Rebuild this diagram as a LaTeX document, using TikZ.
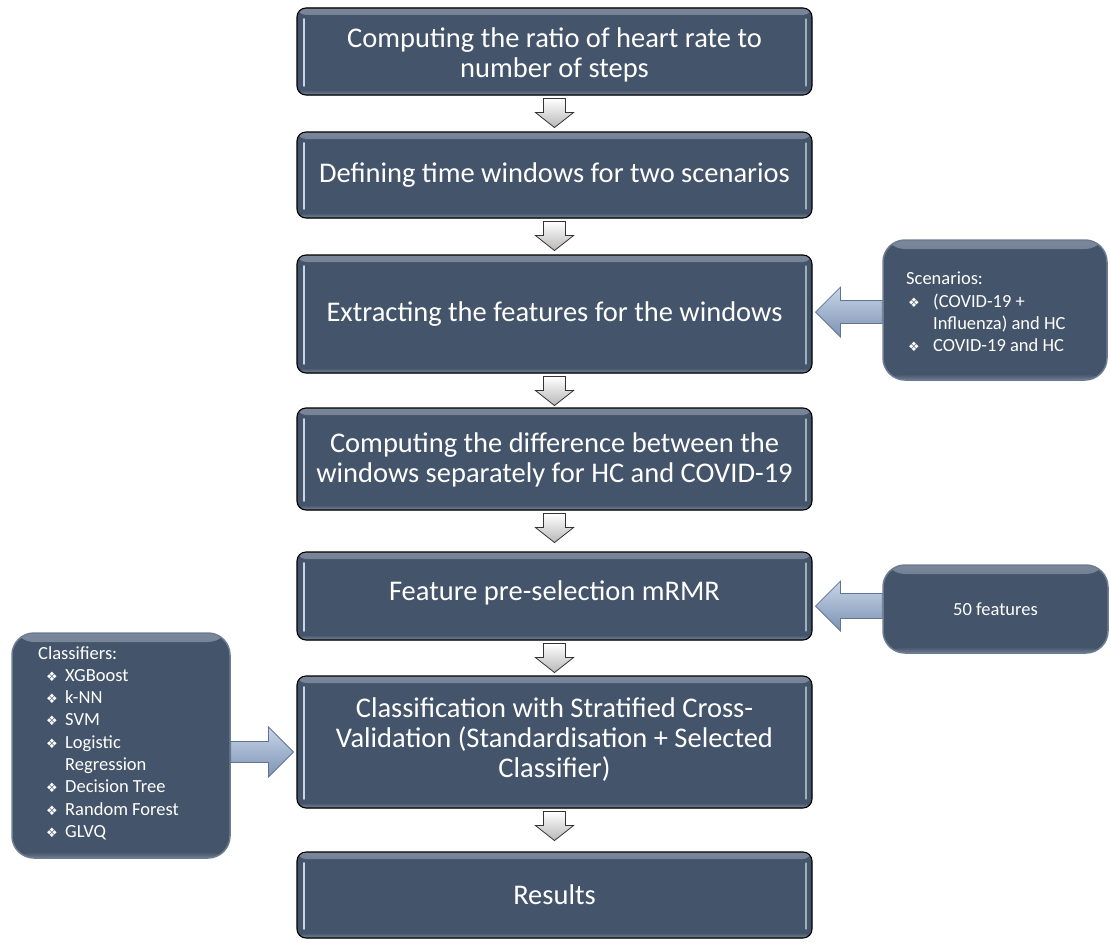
\documentclass[tikz,border=0pt]{standalone}
\usepackage{fontspec}
\setmainfont{Carlito}
\newfontfamily\djv{DejaVu Sans}
\usetikzlibrary{calc}
\definecolor{slate}{HTML}{44546A}
\definecolor{slatelight}{HTML}{7A879A}
\definecolor{hl}{HTML}{C9D5E4}
\definecolor{rim}{HTML}{6E7C91}
\definecolor{arrowfill1}{HTML}{C7D5E8}
\definecolor{arrowfill2}{HTML}{7D93B2}
\definecolor{arrowline}{HTML}{5F7494}
\newcommand{\bul}{{\djv\fontsize{13}{13}\selectfont\char"2756}}
\tikzset{
  mainbox/.style={draw=black, line width=1.1pt, rounded corners=9pt, fill=slate,
    minimum width=515pt, inner sep=0pt,
    path picture={
      \fill[top color=slatelight, bottom color=slate]
        (path picture bounding box.north west) rectangle ([yshift=-7pt]path picture bounding box.north east);
      \fill[top color=slate, bottom color=slatelight]
        ([yshift=5pt]path picture bounding box.south west) rectangle (path picture bounding box.south east);
      \draw[hl, line width=1.6pt, line cap=round]
        ([xshift=7pt,yshift=-11pt]path picture bounding box.north west) --
        ([xshift=7pt,yshift=9pt]path picture bounding box.south west);
      \draw[hl!70!slate, line width=1.2pt, line cap=round]
        ([xshift=-6pt,yshift=-11pt]path picture bounding box.north east) --
        ([xshift=-6pt,yshift=9pt]path picture bounding box.south east);
    }},
  maintext/.style={text=white, font=\fontsize{28.5}{30}\selectfont, align=center},
  sidebox/.style={draw=rim, line width=1.5pt, rounded corners=22pt, fill=slate, inner sep=0pt,
    path picture={
      \fill[top color=slatelight, bottom color=slate]
        (path picture bounding box.north west) rectangle ([yshift=-9pt]path picture bounding box.north east);
      \fill[top color=slate, bottom color=rim]
        ([yshift=6pt]path picture bounding box.south west) rectangle (path picture bounding box.south east);
    }},
  sidetext/.style={text=white, font=\fontsize{18.5}{22.3}\selectfont, align=left, inner sep=0pt},
  downarr/.style={draw=black!80, line width=0.8pt, top color=white, bottom color=black!28, line join=miter},
  horarr/.style={draw=arrowline, line width=0.8pt, top color=arrowfill1, bottom color=arrowfill2, line join=miter},
}
\newcommand{\blkdown}[1]{%
  \path[downarr] ($(#1.south)+(-11,3)$) -- ++(22,0) -- ++(0,14) -- ++(8,0) -- ++(-19,15) -- ++(-19,-15) -- ++(8,0) -- cycle;}
\begin{document}
\begin{tikzpicture}[x=1pt,y=-1pt]
\useasboundingbox (0,0) rectangle (1110,942);
% main boxes
\node[mainbox, minimum height=87pt] (b1) at (554.5,51.5) {};
\node[maintext] at ($(b1)+(0,3)$) {Computing the ratio of heart rate to\\number of steps};
\node[mainbox, minimum height=86pt] (b2) at (554.5,175) {};
\node[maintext] at (b2) {Defining time windows for two scenarios};
\node[mainbox, minimum height=118pt] (b3) at (554.5,314) {};
\node[maintext] at (b3) {Extracting the features for the windows};
\node[mainbox, minimum height=102pt] (b4) at (554.5,459) {};
\node[maintext] at ($(b4)+(0,1)$) {Computing the difference between the\\windows separately for HC and COVID-19};
\node[mainbox, minimum height=88pt] (b5) at (554.5,596) {};
\node[maintext] at ($(b5)+(0,-3)$) {Feature pre-selection mRMR};
\node[mainbox, minimum height=132pt] (b6) at (554.5,742) {};
\node[maintext] at ($(b6)+(0,-2)$) {Classification with Stratified Cross-\\Validation (Standardisation + Selected\\Classifier)};
\node[mainbox, minimum height=86pt] (b7) at (554.5,895) {};
\node[maintext] at (b7) {Results};
% down arrows
\blkdown{b1}
\blkdown{b2}
\blkdown{b3}
\blkdown{b4}
\blkdown{b5}
\blkdown{b6}
% side boxes
\node[sidebox, minimum width=224pt, minimum height=140pt] (sc) at (995,310) {};
\node[sidetext, anchor=north west] at (906,272) {Scenarios:\\
\hspace*{2pt}\makebox[25pt][l]{\bul}(COVID-19 +\\
\hspace*{27pt}Influenza) and HC\\
\hspace*{2pt}\makebox[25pt][l]{\bul}COVID-19 and HC};
\node[sidebox, minimum width=225pt, minimum height=88pt] (ft) at (995.5,609) {};
\node[sidetext] at (ft) {50 features};
\node[sidebox, minimum width=218pt, minimum height=225pt] (cl) at (121,745.5) {};
\node[sidetext, anchor=north west] at (38,646) {Classifiers:\\
\hspace*{8pt}\makebox[19pt][l]{\bul}XGBoost\\
\hspace*{8pt}\makebox[19pt][l]{\bul}k-NN\\
\hspace*{8pt}\makebox[19pt][l]{\bul}SVM\\
\hspace*{8pt}\makebox[19pt][l]{\bul}Logistic\\
\hspace*{27pt}Regression\\
\hspace*{8pt}\makebox[19pt][l]{\bul}Decision Tree\\
\hspace*{8pt}\makebox[19pt][l]{\bul}Random Forest\\
\hspace*{8pt}\makebox[19pt][l]{\bul}GLVQ};
% horizontal block arrows
\path[horarr] let \p1=($(b3.east)+(3,-2)$), \p2=(sc.west) in
  (\x1,\y1) -- (\x1+25pt,\y1+25pt) -- (\x1+25pt,\y1+11.5pt) -- (\x2,\y1+11.5pt)
  -- (\x2,\y1-11.5pt) -- (\x1+25pt,\y1-11.5pt) -- (\x1+25pt,\y1-25pt) -- cycle;
\path[horarr] let \p1=($(b5.east)+(3,10)$), \p2=(ft.west) in
  (\x1,\y1) -- (\x1+25pt,\y1+25pt) -- (\x1+25pt,\y1+12.5pt) -- (\x2,\y1+12.5pt)
  -- (\x2,\y1-12.5pt) -- (\x1+25pt,\y1-12.5pt) -- (\x1+25pt,\y1-25pt) -- cycle;
\path[horarr] let \p1=($(b6.west)+(-3,10)$), \p2=(cl.east) in
  (\x1,\y1) -- (\x1-25pt,\y1+25pt) -- (\x1-25pt,\y1+10.5pt) -- (\x2,\y1+10.5pt)
  -- (\x2,\y1-10.5pt) -- (\x1-25pt,\y1-10.5pt) -- (\x1-25pt,\y1-25pt) -- cycle;
\end{tikzpicture}
\end{document}
